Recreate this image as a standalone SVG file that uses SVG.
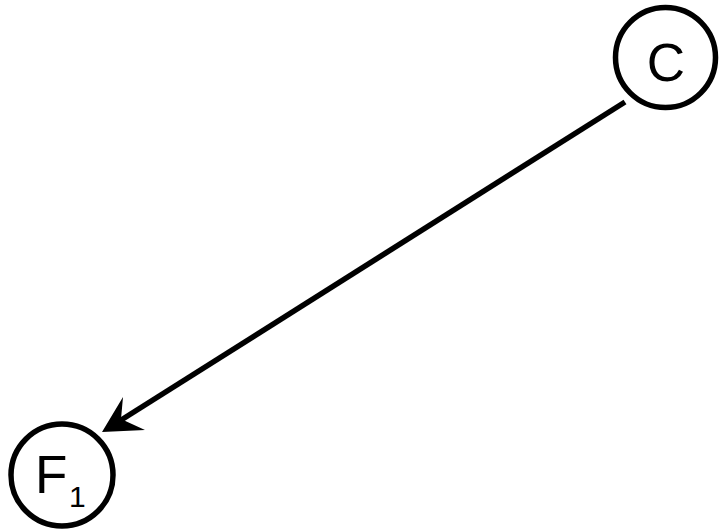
<svg xmlns="http://www.w3.org/2000/svg" width="722" height="531" viewBox="0 0 722 531">
<style>
.node{fill:#fff;stroke:#000;stroke-width:5.5}
.lbl{font-family:"Liberation Sans",Arial,sans-serif;fill:#000}
.edge{stroke:#000;stroke-width:5.5;fill:none}
</style>
<rect width="722" height="531" fill="#fff"/>
<g id="connectors">
<line class="edge" x1="625" y1="102" x2="118" y2="422"/>
<path d="M102,432 L123,397 L121,419 L145,430 Z" fill="#000"/>
</g>
<g id="node-C">
<circle class="node" cx="665.5" cy="57.5" r="50"/>
<text class="lbl" x="666" y="81" font-size="53" text-anchor="middle">C</text>
</g>
<g id="node-F1">
<circle class="node" cx="62" cy="475" r="51"/>
<text class="lbl" x="35" y="493" font-size="53">F</text>
<text class="lbl" x="69" y="507" font-size="30">1</text>
</g>
</svg>
